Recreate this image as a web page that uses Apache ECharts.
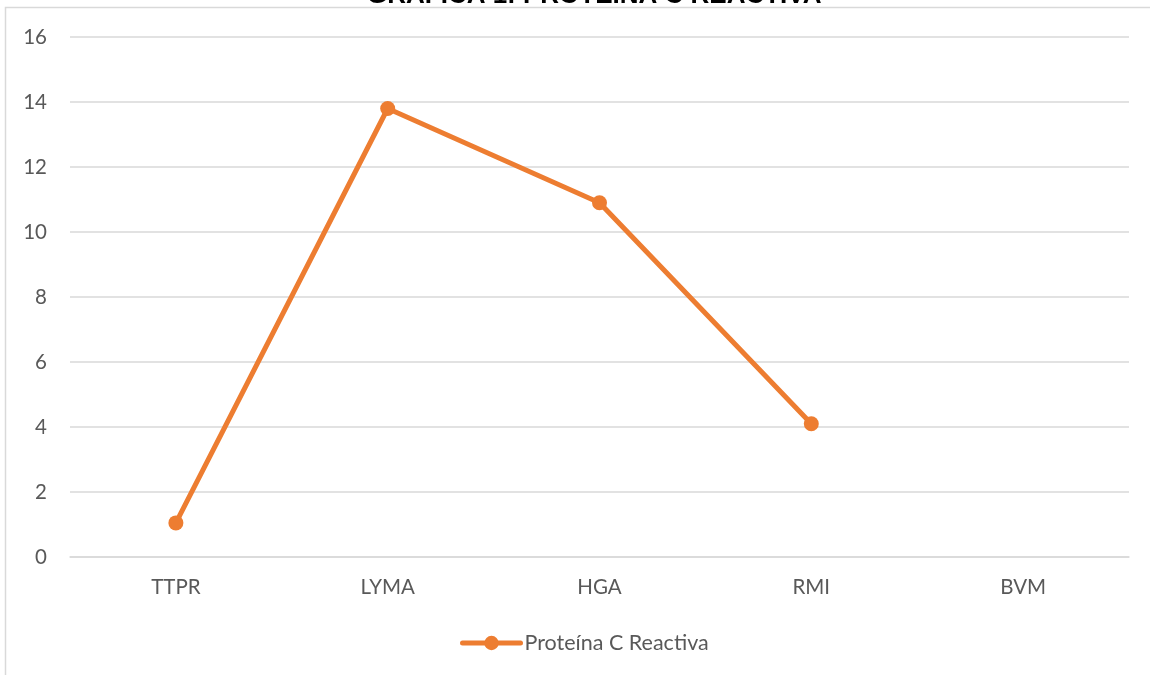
<!DOCTYPE html>
<html>
<head>
<meta charset="utf-8">
<script src="https://cdn.jsdelivr.net/npm/echarts@6/dist/echarts.min.js"></script>
<style>
  html, body { margin: 0; padding: 0; background: #ffffff; }
  #chart { width: 1150px; height: 675px; }
</style>
</head>
<body>
<div id="chart"></div>
<script>
// Patient codes on the category axis
const categories = ['TTPR', 'LYMA', 'HGA', 'RMI', 'BVM'];
// C-reactive protein values per patient (BVM has no value)
const pcrValues = [1.05, 13.8, 10.9, 4.1, null];
const seriesName = 'Proteína C Reactiva';
const chartTitle = 'GRÁFICA 1: PROTEÍNA C REACTIVA';

const labelFont = 'Lato, "Open Sans", sans-serif';
const chart = echarts.init(document.getElementById('chart'), null, { renderer: 'canvas' });

chart.setOption({
  backgroundColor: '#ffffff',
  animation: false,
  title: {
    text: chartTitle,
    left: 367,
    top: -17,
    padding: 0,
    textStyle: {
      fontFamily: '"Liberation Sans", Arial, sans-serif',
      fontWeight: 'bold',
      fontSize: 26,
      color: '#000000'
    }
  },
  graphic: [{
    type: 'rect',
    silent: true,
    shape: { x: 5.5, y: 7.5, width: 1200, height: 700 },
    style: { fill: 'none', stroke: '#d9d9d9', lineWidth: 1.5 }
  }],
  grid: { left: 70, right: 21, top: 37, bottom: 118 },
  legend: {
    data: [seriesName],
    left: 455,
    top: 627,
    itemWidth: 58,
    itemHeight: 18,
    itemGap: 10,
    lineStyle: { width: 5, cap: 'round' },
    textStyle: { fontFamily: labelFont, fontSize: 21.5, color: '#595959', padding: [0, 0, 0, -1] }
  },
  xAxis: {
    type: 'category',
    data: categories,
    boundaryGap: true,
    axisLine: { show: true, lineStyle: { color: '#d9d9d9', width: 1.5 } },
    axisTick: { show: false },
    axisLabel: { margin: 20, fontFamily: labelFont, fontSize: 20.5, color: '#595959' },
    splitLine: { show: false }
  },
  yAxis: {
    type: 'value',
    min: 0,
    max: 16,
    interval: 2,
    axisLine: { show: false },
    axisTick: { show: false },
    axisLabel: { margin: 23, fontFamily: labelFont, fontSize: 20.5, color: '#595959' },
    splitLine: { show: true, lineStyle: { color: '#d9d9d9', width: 1.5 } }
  },
  series: [{
    name: seriesName,
    type: 'line',
    data: pcrValues,
    connectNulls: false,
    symbol: 'circle',
    symbolSize: 15,
    lineStyle: { color: '#ED7D31', width: 5, cap: 'round', join: 'round' },
    itemStyle: { color: '#ED7D31' }
  }]
});
</script>
</body>
</html>
